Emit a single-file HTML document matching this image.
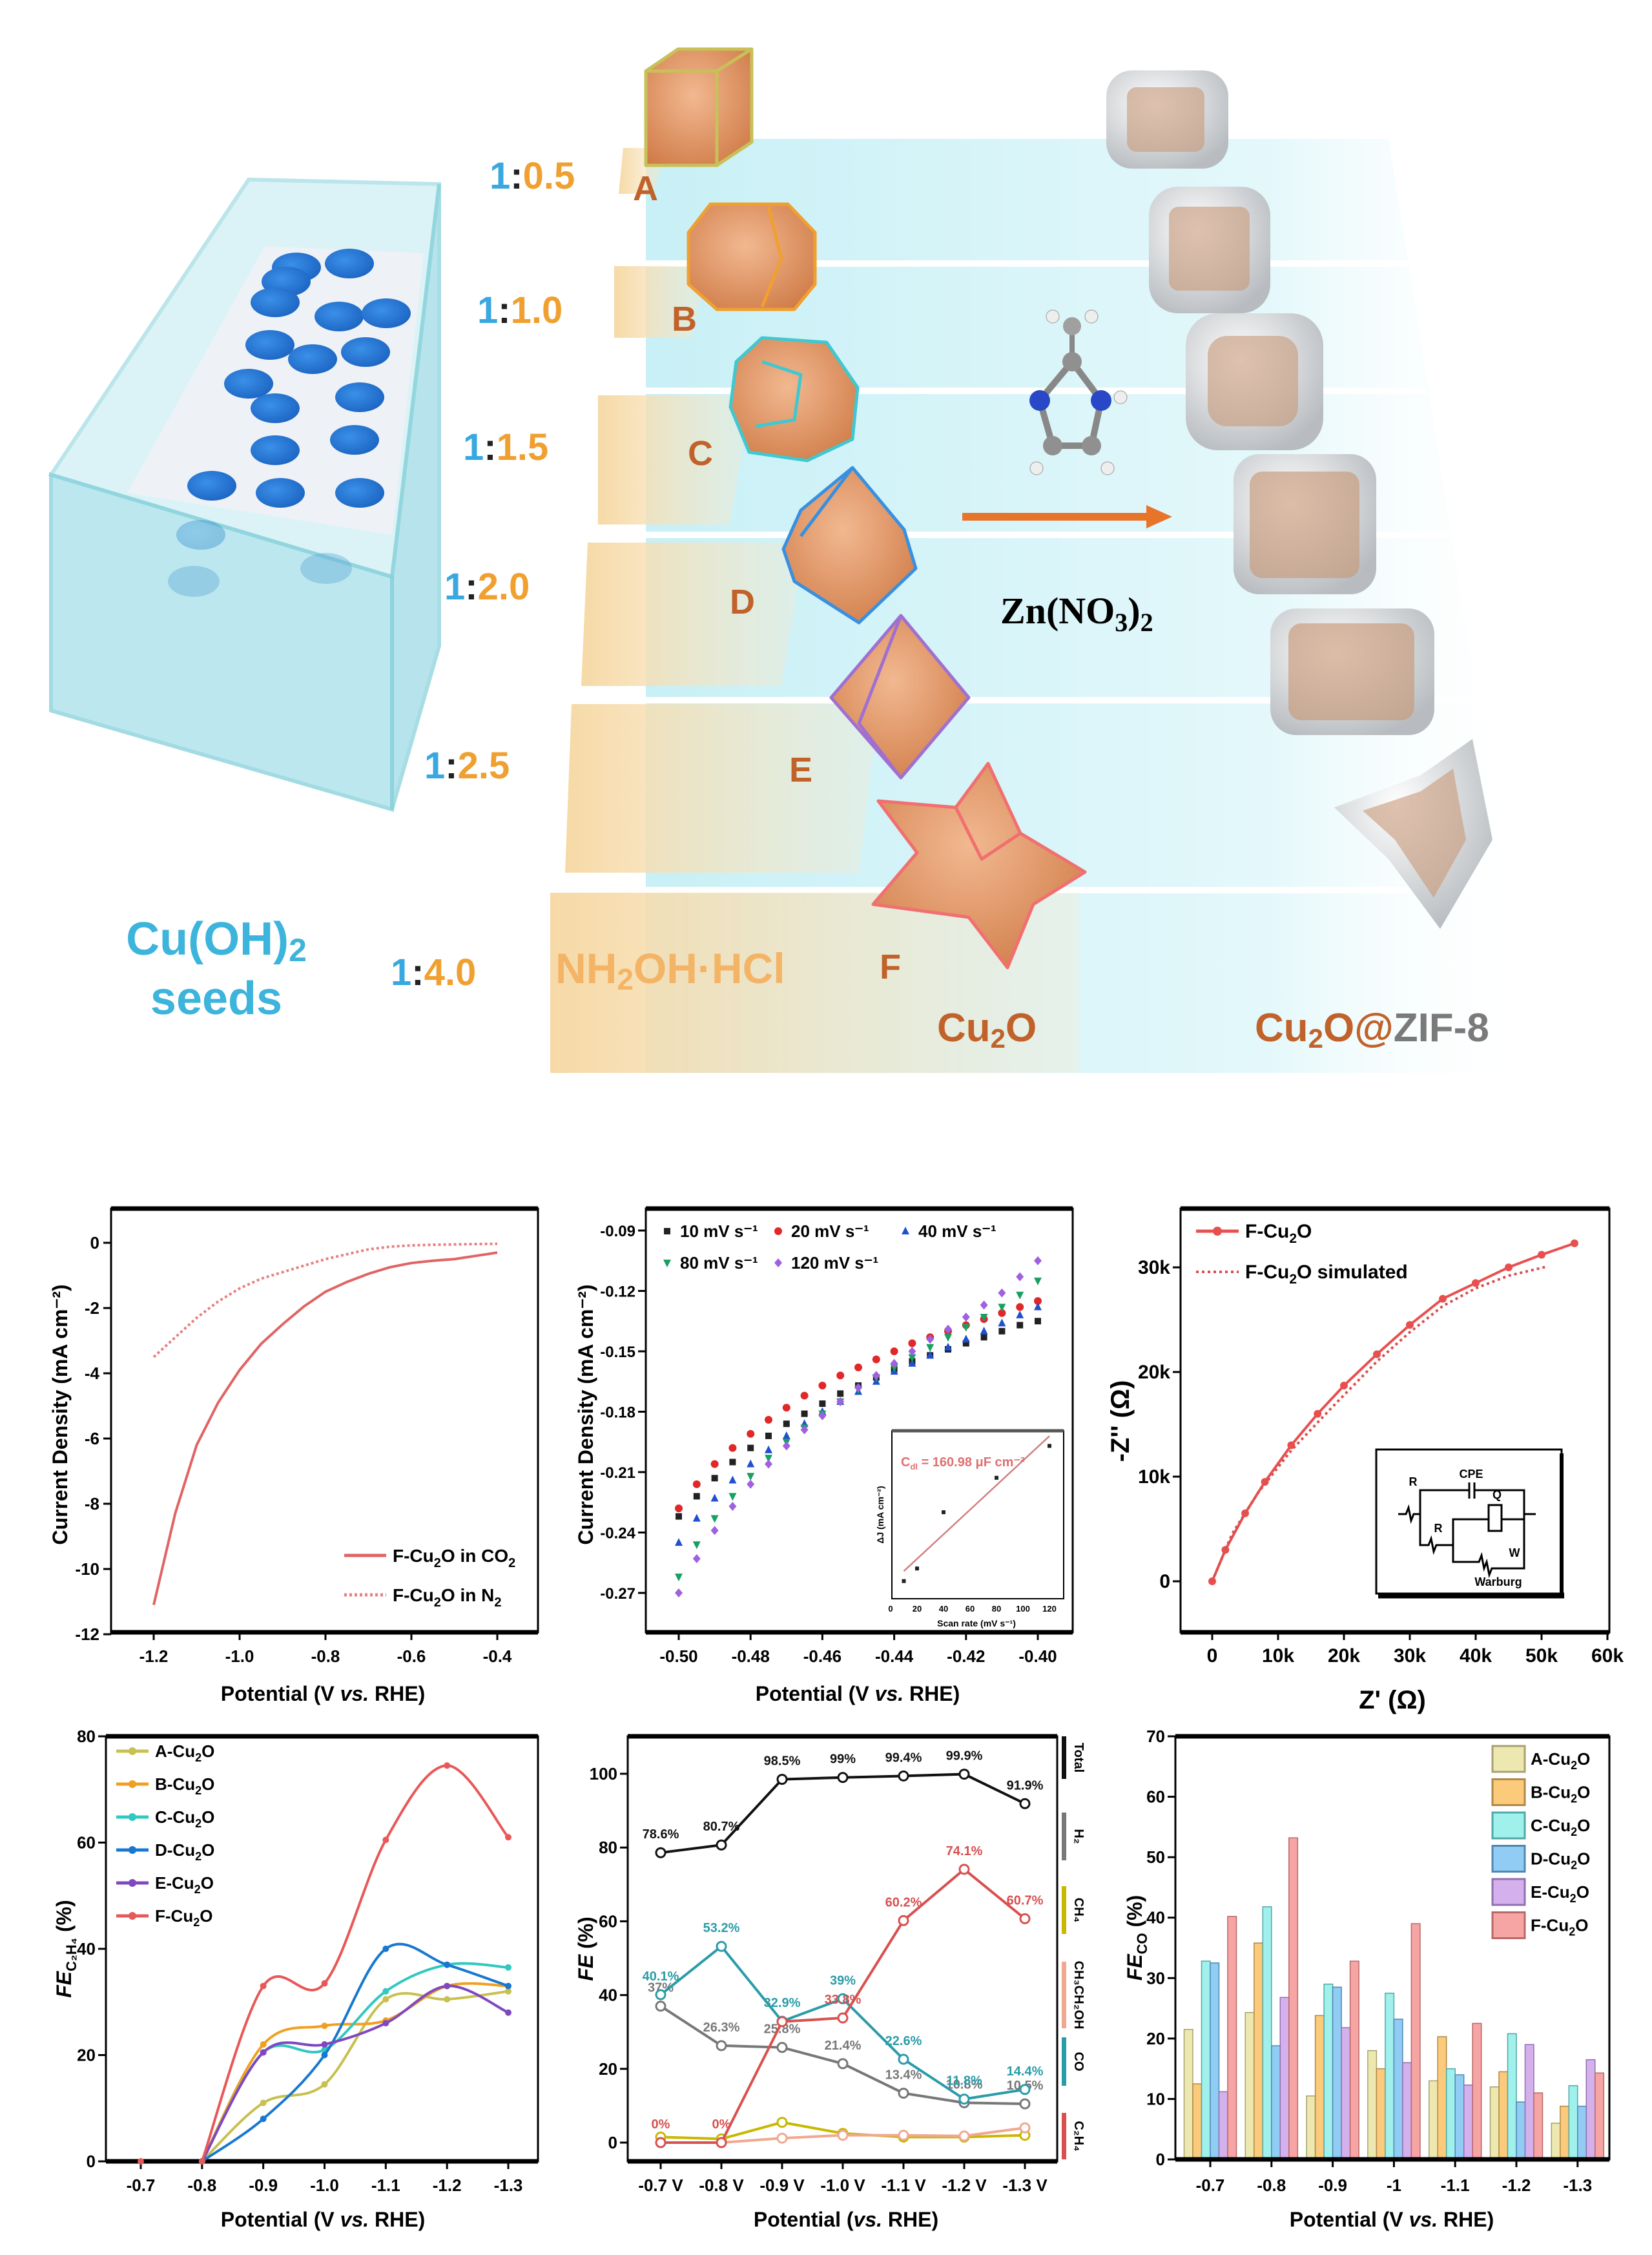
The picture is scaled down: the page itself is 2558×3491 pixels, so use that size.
<!DOCTYPE html>
<html><head><meta charset="utf-8"><style>
html,body{margin:0;padding:0;background:#fff}
svg{display:block}
text{font-family:"Liberation Sans",sans-serif}
</style></head><body>
<svg id="fig" width="2558" height="3491" viewBox="0 0 2558 3491" xmlns="http://www.w3.org/2000/svg">
<defs>
<linearGradient id="cyanBg" x1="0" y1="0" x2="1" y2="0"><stop offset="0" stop-color="#c8f0f6"/><stop offset="0.7" stop-color="#e4f8fb"/><stop offset="1" stop-color="#ffffff" stop-opacity="0"/></linearGradient>
<linearGradient id="beige" x1="0" y1="0" x2="1" y2="0"><stop offset="0" stop-color="#f6d9a6"/><stop offset="1" stop-color="#fbe9cc" stop-opacity="0.3"/></linearGradient>
<radialGradient id="cu" cx="0.45" cy="0.4" r="0.7"><stop offset="0" stop-color="#f2b890"/><stop offset="1" stop-color="#d07c48"/></radialGradient>
<radialGradient id="zif" cx="0.4" cy="0.35" r="0.7"><stop offset="0" stop-color="#ffffff"/><stop offset="1" stop-color="#b8bcc0"/></radialGradient>
<radialGradient id="disc" cx="0.4" cy="0.4" r="0.7"><stop offset="0" stop-color="#3a90e8"/><stop offset="1" stop-color="#1a62c0"/></radialGradient>
</defs>

<!-- ===== Illustration ===== -->
<g>
<polygon points="1000,215 2150,215 2380,1661 1000,1661" fill="url(#cyanBg)"/>
<g stroke="#ffffff" stroke-width="10">
<line x1="1000" y1="408" x2="2180" y2="408"/><line x1="1000" y1="605" x2="2210" y2="605"/><line x1="1000" y1="828" x2="2240" y2="828"/><line x1="1000" y1="1084" x2="2280" y2="1084"/><line x1="1000" y1="1378" x2="2320" y2="1378"/>
</g>
<g fill="url(#beige)">
<polygon points="965,229 1035,229 1010,300 958,300"/>
<polygon points="951,412 1098,412 1070,523 951,523"/>
<polygon points="926,612 1164,612 1130,812 926,812"/>
<polygon points="910,840 1246,840 1210,1062 900,1062"/>
<polygon points="885,1090 1361,1090 1330,1351 875,1351"/>
<polygon points="852,1382 1672,1382 1672,1661 852,1661"/>
</g>
<g>
<polygon points="385,278 680,285 607,893 79,735" fill="#bfeaf0" opacity="0.55" stroke="#84d0da" stroke-width="6"/>
<polygon points="410,381 656,392 607,828 197,763" fill="#eef2f6"/>
<g fill="url(#disc)">
<ellipse cx="459" cy="414" rx="38" ry="23"/><ellipse cx="541" cy="408" rx="38" ry="23"/><ellipse cx="443" cy="436" rx="38" ry="23"/><ellipse cx="426" cy="468" rx="38" ry="23"/><ellipse cx="525" cy="490" rx="38" ry="23"/><ellipse cx="598" cy="485" rx="38" ry="23"/><ellipse cx="418" cy="534" rx="38" ry="23"/><ellipse cx="484" cy="556" rx="38" ry="23"/><ellipse cx="566" cy="545" rx="38" ry="23"/><ellipse cx="385" cy="594" rx="38" ry="23"/><ellipse cx="426" cy="632" rx="38" ry="23"/><ellipse cx="557" cy="615" rx="38" ry="23"/><ellipse cx="426" cy="697" rx="38" ry="23"/><ellipse cx="549" cy="681" rx="38" ry="23"/><ellipse cx="328" cy="752" rx="38" ry="23"/><ellipse cx="434" cy="763" rx="38" ry="23"/><ellipse cx="557" cy="763" rx="38" ry="23"/><ellipse cx="311" cy="828" rx="38" ry="23"/>
</g>
<polygon points="79,735 607,893 607,1253 79,1100" fill="#a8e0ea" opacity="0.75" stroke="#84d0da" stroke-width="6"/>
<polygon points="680,285 680,1000 607,1253 607,893" fill="#98d8e4" opacity="0.7" stroke="#84d0da" stroke-width="6"/>
<ellipse cx="300" cy="900" rx="40" ry="24" fill="#5aa8d8" opacity="0.4"/><ellipse cx="505" cy="880" rx="40" ry="24" fill="#5aa8d8" opacity="0.4"/>
</g>
<g stroke-width="5" stroke-linejoin="round">
<g stroke="#c8c058"><polygon points="1000,110 1050,76 1164,76 1164,220 1110,256 1000,256" fill="url(#cu)"/><polyline points="1000,110 1110,110 1164,76 M1110,110" fill="none"/><line x1="1110" y1="110" x2="1110" y2="256"/></g>
<g stroke="#f0a030"><polygon points="1100,316 1220,316 1262,360 1262,440 1230,479 1110,479 1066,440 1066,360" fill="url(#cu)"/><polyline points="1190,320 1210,400 1180,475 M1210,400 1262,390" fill="none"/></g>
<g stroke="#40c8d0"><polygon points="1180,523 1280,530 1328,600 1320,680 1250,713 1160,700 1131,630 1140,560" fill="url(#cu)"/><polyline points="1180,560 1240,580 1230,650 1170,660 M1240,580 1300,600 M1230,650 1270,700" fill="none"/></g>
<g stroke="#3890e0"><polygon points="1320,724 1400,820 1418,880 1330,964 1230,900 1213,850 1240,790" fill="url(#cu)"/><polyline points="1240,830 1320,724 M1240,830 1400,840 M1240,830 1330,964" fill="none"/></g>
<g stroke="#a070d0"><polygon points="1395,953 1500,1080 1395,1204 1287,1080" fill="url(#cu)"/><polyline points="1395,953 1330,1120 1395,1204 M1330,1120 1470,1120" fill="none"/></g>
<g stroke="#f07070"><polygon points="1530,1182 1580,1290 1680,1350 1600,1400 1560,1498 1500,1420 1352,1400 1420,1320 1360,1240 1480,1250" fill="url(#cu)"/><polyline points="1480,1250 1520,1330 1580,1290 M1520,1330 1440,1380 M1520,1330 1560,1420 1600,1400" fill="none"/></g>
</g>
<g>
<rect x="1713" y="109" width="189" height="152" rx="40" fill="url(#zif)"/><rect x="1745" y="135" width="120" height="100" rx="15" fill="#c89a7a" opacity="0.6"/>
<rect x="1779" y="289" width="188" height="196" rx="45" fill="url(#zif)"/><rect x="1810" y="320" width="125" height="130" rx="15" fill="#c89a7a" opacity="0.6"/>
<rect x="1836" y="485" width="213" height="212" rx="50" fill="url(#zif)"/><rect x="1870" y="520" width="140" height="140" rx="30" fill="#c89a7a" opacity="0.6"/>
<rect x="1910" y="703" width="221" height="217" rx="40" fill="url(#zif)"/><rect x="1935" y="730" width="170" height="165" rx="20" fill="#c89a7a" opacity="0.65"/>
<rect x="1967" y="942" width="254" height="196" rx="40" fill="url(#zif)"/><rect x="1995" y="965" width="195" height="150" rx="20" fill="#c89a7a" opacity="0.65"/>
<polygon points="2280,1144 2311,1300 2230,1438 2150,1330 2066,1250 2200,1200" fill="url(#zif)"/><polygon points="2250,1190 2270,1300 2220,1390 2160,1300 2110,1255 2200,1225" fill="#c89a7a" opacity="0.6"/>
</g>
<g>
<line x1="1610" y1="620" x2="1660" y2="560" stroke="#888" stroke-width="10"/><line x1="1660" y1="560" x2="1705" y2="620" stroke="#888" stroke-width="10"/><line x1="1610" y1="620" x2="1630" y2="690" stroke="#888" stroke-width="10"/><line x1="1705" y1="620" x2="1690" y2="690" stroke="#888" stroke-width="10"/><line x1="1630" y1="690" x2="1690" y2="690" stroke="#888" stroke-width="10"/><line x1="1660" y1="560" x2="1660" y2="510" stroke="#888" stroke-width="8"/>
<circle cx="1610" cy="620" r="16" fill="#2848c8"/><circle cx="1705" cy="620" r="16" fill="#2848c8"/><circle cx="1660" cy="560" r="15" fill="#909090"/><circle cx="1630" cy="690" r="15" fill="#909090"/><circle cx="1690" cy="690" r="15" fill="#909090"/><circle cx="1660" cy="505" r="14" fill="#a0a0a0"/><circle cx="1630" cy="490" r="10" fill="#eee" stroke="#999"/><circle cx="1690" cy="490" r="10" fill="#eee" stroke="#999"/><circle cx="1735" cy="615" r="10" fill="#eee" stroke="#999"/><circle cx="1605" cy="725" r="10" fill="#eee" stroke="#999"/><circle cx="1715" cy="725" r="10" fill="#eee" stroke="#999"/>
</g>
<g><rect x="1490" y="794" width="290" height="12" fill="#e8742a"/><polygon points="1775,782 1815,800 1775,818" fill="#e8742a"/></g>
<text x="1549" y="965" font-family="Liberation Serif" font-weight="bold" font-size="58" style="font-family:'Liberation Serif',serif">Zn(NO<tspan font-size="40" dy="12">3</tspan><tspan dy="-12">)</tspan><tspan font-size="40" dy="12">2</tspan></text>
<g font-weight="bold" font-size="58" fill="#f0a030">
<text x="758" y="292"><tspan fill="#3aa8e0">1</tspan><tspan fill="#222">:</tspan>0.5</text>
<text x="739" y="500"><tspan fill="#3aa8e0">1</tspan><tspan fill="#222">:</tspan>1.0</text>
<text x="717" y="712"><tspan fill="#3aa8e0">1</tspan><tspan fill="#222">:</tspan>1.5</text>
<text x="688" y="928"><tspan fill="#3aa8e0">1</tspan><tspan fill="#222">:</tspan>2.0</text>
<text x="657" y="1205"><tspan fill="#3aa8e0">1</tspan><tspan fill="#222">:</tspan>2.5</text>
<text x="605" y="1525"><tspan fill="#3aa8e0">1</tspan><tspan fill="#222">:</tspan>4.0</text>
</g>
<g font-weight="bold" font-size="54" fill="#c0622a">
<text x="980" y="310">A</text><text x="1040" y="512">B</text><text x="1065" y="720">C</text><text x="1130" y="950">D</text><text x="1222" y="1210">E</text><text x="1362" y="1515">F</text>
</g>
<text x="335" y="1478" text-anchor="middle" font-weight="bold" font-size="72" fill="#3cb4dc">Cu(OH)<tspan font-size="50" dy="10">2</tspan></text>
<text x="335" y="1570" text-anchor="middle" font-weight="bold" font-size="72" fill="#3cb4dc">seeds</text>
<text x="860" y="1522" font-weight="bold" font-size="66" fill="#f3b466">NH<tspan font-size="46" dy="10">2</tspan><tspan dy="-10">OH·HCl</tspan></text>
<text x="1451" y="1612" font-weight="bold" font-size="62" fill="#c0622a">Cu<tspan font-size="42" dy="10">2</tspan><tspan dy="-10">O</tspan></text>
<text x="1943" y="1612" font-weight="bold" font-size="62" fill="#c0622a">Cu<tspan font-size="42" dy="10">2</tspan><tspan dy="-10">O@</tspan><tspan fill="#7a7a7a">ZIF-8</tspan></text>
</g>
<g id="charts"></g>
</svg>
<script>
// ---------- DATA ----------
const lsvPotential=[-1.2,-1.15,-1.1,-1.05,-1.0,-0.95,-0.9,-0.85,-0.8,-0.75,-0.7,-0.65,-0.6,-0.55,-0.5,-0.45,-0.4];
const lsvCO2=[-11.1,-8.3,-6.2,-4.9,-3.9,-3.1,-2.5,-1.95,-1.5,-1.2,-0.95,-0.75,-0.62,-0.55,-0.5,-0.4,-0.3];
const lsvN2=[-3.5,-2.9,-2.3,-1.8,-1.4,-1.1,-0.9,-0.7,-0.5,-0.35,-0.2,-0.12,-0.08,-0.06,-0.05,-0.04,-0.03];
const lsvXTicks=[-1.2,-1.0,-0.8,-0.6,-0.4];
const lsvYTicks=[0,-2,-4,-6,-8,-10,-12];

const cvPotential=[-0.500,-0.495,-0.490,-0.485,-0.480,-0.475,-0.470,-0.465,-0.460,-0.455,-0.450,-0.445,-0.440,-0.435,-0.430,-0.425,-0.420,-0.415,-0.410,-0.405,-0.400];
const cv10=[-0.232,-0.222,-0.213,-0.205,-0.198,-0.192,-0.186,-0.181,-0.176,-0.171,-0.167,-0.163,-0.159,-0.155,-0.152,-0.149,-0.146,-0.143,-0.140,-0.137,-0.135];
const cv20=[-0.228,-0.216,-0.206,-0.198,-0.191,-0.184,-0.178,-0.172,-0.167,-0.162,-0.158,-0.154,-0.150,-0.146,-0.143,-0.140,-0.137,-0.134,-0.131,-0.128,-0.125];
const cv40=[-0.245,-0.233,-0.223,-0.214,-0.206,-0.199,-0.192,-0.186,-0.180,-0.175,-0.170,-0.165,-0.160,-0.156,-0.152,-0.148,-0.144,-0.140,-0.136,-0.132,-0.128];
const cv80=[-0.262,-0.246,-0.233,-0.222,-0.212,-0.203,-0.195,-0.188,-0.181,-0.175,-0.169,-0.163,-0.158,-0.153,-0.148,-0.143,-0.138,-0.133,-0.128,-0.122,-0.115];
const cv120=[-0.270,-0.253,-0.239,-0.227,-0.216,-0.206,-0.197,-0.189,-0.182,-0.175,-0.168,-0.162,-0.156,-0.150,-0.144,-0.139,-0.133,-0.127,-0.121,-0.113,-0.105];
const cvXTicks=[-0.50,-0.48,-0.46,-0.44,-0.42,-0.40];
const cvYTicks=[-0.09,-0.12,-0.15,-0.18,-0.21,-0.24,-0.27];
const scanRates=[10,20,40,80,120];
const deltaJ=[0.0121,0.0136,0.0203,0.0244,0.0282];

const zReal=[0,2,5,8,12,16,20,25,30,35,40,45,50,55];
const zImag=[0,3,6.5,9.5,13,16,18.7,21.7,24.5,27,28.5,30,31.2,32.3];
const zSimReal=[0,3,7,12,18,25,30,35,40,45,51];
const zSimImag=[0,4.5,8.5,12.5,16.5,21,23.8,26.3,28,29.2,30.1];
const zXTicks=[0,10,20,30,40,50,60];
const zYTicks=[0,10,20,30];

const fePotential=[-0.8,-0.9,-1.0,-1.1,-1.2,-1.3];
const feA=[0,11,14.5,30.5,30.5,32];
const feB=[0,22,25.5,26.5,33,33];
const feC=[0,20.5,21,32,37,36.5];
const feD=[0,8,20,40,37,33];
const feE=[0,20.5,22,26,33,28];
const feF=[0,33,33.5,60.5,74.5,61];
const feXTicks=[-0.7,-0.8,-0.9,-1.0,-1.1,-1.2,-1.3];
const feYTicks=[0,20,40,60,80];

const prodCats=["-0.7 V","-0.8 V","-0.9 V","-1.0 V","-1.1 V","-1.2 V","-1.3 V"];
const feTotal=[78.6,80.7,98.5,99,99.4,99.9,91.9];
const feH2=[37,26.3,25.8,21.4,13.4,10.8,10.5];
const feCH4=[1.5,1,5.5,2.5,1.5,1.5,2];
const feEtOH=[0,0,1.2,2,2,1.8,4];
const feCO=[40.1,53.2,32.9,39,22.6,11.8,14.4];
const feC2H4=[0,0,32.8,33.8,60.2,74.1,60.7];
const totalLabels=["78.6%","80.7%","98.5%","99%","99.4%","99.9%","91.9%"];
const h2Labels=["37%","26.3%","25.8%","21.4%","13.4%","10.8%","10.5%"];
const coLabels=["40.1%","53.2%","32.9%","39%","22.6%","11.8%","14.4%"];
const c2h4Labels=["0%","0%","","33.8%","60.2%","74.1%","60.7%"];
const prodYTicks=[0,20,40,60,80,100];

const coCats=["-0.7","-0.8","-0.9","-1","-1.1","-1.2","-1.3"];
const coA=[21.5,24.3,10.5,18,13,12,6];
const coB=[12.5,35.8,23.8,15,20.3,14.5,8.8];
const coC=[32.8,41.8,29,27.5,15,20.8,12.2];
const coD=[32.5,18.8,28.5,23.2,14,9.5,8.8];
const coE=[11.2,26.8,21.8,16,12.3,19,16.5];
const coF=[40.2,53.2,32.8,39,22.5,11,14.3];
const coYTicks=[0,10,20,30,40,50,60,70];

// ---------- HELPERS ----------
const NS="http://www.w3.org/2000/svg";
const root=document.getElementById('charts');
function mk(tag,attrs,parent){const e=document.createElementNS(NS,tag);for(const k in attrs)e.setAttribute(k,attrs[k]);(parent||root).appendChild(e);return e;}
function lin(d0,d1,r0,r1){return v=>r0+(v-d0)/(d1-d0)*(r1-r0);}
function txt(x,y,s,size,anchor,parent,extra){const t=mk('text',Object.assign({x:x,y:y,'font-size':size,'text-anchor':anchor||'middle','font-weight':'bold'},extra||{}),parent);t.textContent=s;return t;}
function frame(g,x0,y0,x1,y1){
  mk('rect',{x:x0,y:y0,width:x1-x0,height:y1-y0,fill:'none',stroke:'#000','stroke-width':3},g);
  mk('line',{x1:x0,y1:y0,x2:x1,y2:y0,stroke:'#000','stroke-width':7},g);
  mk('line',{x1:x0,y1:y1,x2:x1,y2:y1,stroke:'#000','stroke-width':7},g);
}
function smoothPath(pts){let d='M'+pts[0][0]+','+pts[0][1];for(let i=0;i<pts.length-1;i++){const p0=pts[Math.max(0,i-1)],p1=pts[i],p2=pts[i+1],p3=pts[Math.min(pts.length-1,i+2)];const c1x=p1[0]+(p2[0]-p0[0])/6,c1y=p1[1]+(p2[1]-p0[1])/6,c2x=p2[0]-(p3[0]-p1[0])/6,c2y=p2[1]-(p3[1]-p1[1])/6;d+=` C${c1x},${c1y} ${c2x},${c2y} ${p2[0]},${p2[1]}`;}return d;}
function poly(xs,ys,sx,sy){return xs.map((v,i)=>sx(v)+','+sy(ys[i])).join(' ');}

// ---------- PANEL 1: LSV ----------
(function(){
  const g=mk('g',{});
  
  
  const X0=172,X1=833,Y0=1871,Y1=2527;
  const sx=lin(-1.2,-0.4,238,770), sy=lin(0,-12,1924,2530);
  frame(g,X0,Y0,X1,Y1);
  lsvXTicks.forEach(v=>{mk('line',{x1:sx(v),y1:Y1,x2:sx(v),y2:Y1+12,stroke:'#000','stroke-width':3},g);const t=txt(sx(v),2573,v.toFixed(1),26,'middle',g);});
  lsvYTicks.forEach(v=>{mk('line',{x1:X0-12,y1:sy(v),x2:X0,y2:sy(v),stroke:'#000','stroke-width':3},g);const t=txt(X0-18,sy(v)+9,String(v),26,'end',g);});
  const l1=mk('polyline',{points:poly(lsvPotential,lsvCO2,sx,sy),fill:'none',stroke:'#e06464','stroke-width':4},g);
  
  
  const l2=mk('polyline',{points:poly(lsvPotential,lsvN2,sx,sy),fill:'none',stroke:'#e88080','stroke-width':4,'stroke-dasharray':'4,4'},g);
  
  
  mk('line',{x1:533,y1:2408,x2:598,y2:2408,stroke:'#e06464','stroke-width':5},g);
  mk('line',{x1:533,y1:2469,x2:598,y2:2469,stroke:'#e88080','stroke-width':5,'stroke-dasharray':'4,4'},g);
  const a=txt(608,2418,'',28,'start',g);a.innerHTML='F-Cu<tspan font-size="20" dy="8">2</tspan><tspan dy="-8">O in CO</tspan><tspan font-size="20" dy="8">2</tspan>';
  
  const b=txt(608,2479,'',28,'start',g);b.innerHTML='F-Cu<tspan font-size="20" dy="8">2</tspan><tspan dy="-8">O in N</tspan><tspan font-size="20" dy="8">2</tspan>';
  
  const yt=txt(0,0,'Current Density (mA cm⁻²)',32,'middle',g,{transform:'translate(104,2190) rotate(-90)'});
  
  const xt=txt(500,2633,'',32,'middle',g);xt.innerHTML='Potential (V <tspan font-style="italic">vs.</tspan> RHE)';
  
})();

// ---------- PANEL 2: CV ----------
(function(){
  const g=mk('g',{});
  
  
  const X0=1000,X1=1661,Y0=1871,Y1=2527;
  const sx=lin(-0.50,-0.40,1051,1607), sy=lin(-0.09,-0.27,1905,2466);
  frame(g,X0,Y0,X1,Y1);
  cvXTicks.forEach(v=>{mk('line',{x1:sx(v),y1:Y1,x2:sx(v),y2:Y1+12,stroke:'#000','stroke-width':3},g);const t=txt(sx(v),2573,v.toFixed(2),26,'middle',g);});
  cvYTicks.forEach(v=>{mk('line',{x1:X0-12,y1:sy(v),x2:X0,y2:sy(v),stroke:'#000','stroke-width':3},g);const t=txt(X0-16,sy(v)+9,v.toFixed(2),24,'end',g);});
  const series=[[cv10,'#222','sq','10 mV s⁻¹'],[cv20,'#e02828','ci','20 mV s⁻¹'],[cv40,'#2050d0','tr','40 mV s⁻¹'],[cv80,'#18a060','td','80 mV s⁻¹'],[cv120,'#a060e0','di','120 mV s⁻¹']];
  function marker(x,y,type,col,parent){
    if(type==='sq')return mk('rect',{x:x-5,y:y-5,width:10,height:10,fill:col},parent);
    if(type==='ci')return mk('circle',{cx:x,cy:y,r:6,fill:col},parent);
    if(type==='tr')return mk('polygon',{points:`${x},${y-7} ${x+6},${y+5} ${x-6},${y+5}`,fill:col},parent);
    if(type==='td')return mk('polygon',{points:`${x},${y+7} ${x+6},${y-5} ${x-6},${y-5}`,fill:col},parent);
    return mk('polygon',{points:`${x},${y-7} ${x+6},${y} ${x},${y+7} ${x-6},${y}`,fill:col},parent);
  }
  series.forEach(s=>{
    const sg=mk('g',{},g);
    
    
    cvPotential.forEach((p,i)=>{marker(sx(p),sy(s[0][i]),s[2],s[1],sg);});
  });
  const leg=[[1033,1906],[1205,1906],[1402,1906],[1033,1955],[1205,1955]];
  series.forEach((s,i)=>{marker(leg[i][0],leg[i][1],s[2],s[1],g);const t=txt(leg[i][0]+20,leg[i][1]+9,s[3],26,'start',g);});
  // inset
  const ig=mk('g',{},g);
  
  
  const IX0=1381,IX1=1647,IY0=2215,IY1=2475;
  mk('rect',{x:IX0,y:IY0,width:IX1-IX0,height:IY1-IY0,fill:'#fff',stroke:'#000','stroke-width':2},ig);
  mk('line',{x1:IX0,y1:IY0,x2:IX1,y2:IY0,stroke:'#555','stroke-width':5},ig);
  const isx=lin(0,120,1379,1625), isy=lin(0.010,0.030,2475,2215);
  scanRates.forEach((r,i)=>{mk('rect',{x:isx(r)-3,y:isy(deltaJ[i])-3,width:6,height:6,fill:'#222'},ig);});
  const n=scanRates.length,mx=scanRates.reduce((a,b)=>a+b)/n,my=deltaJ.reduce((a,b)=>a+b)/n;
  let sxy=0,sxx=0;scanRates.forEach((r,i)=>{sxy+=(r-mx)*(deltaJ[i]-my);sxx+=(r-mx)*(r-mx);});
  const k=sxy/sxx,b0=my-k*mx;
  mk('line',{x1:isx(10),y1:isy(b0+k*10),x2:isx(120),y2:isy(b0+k*120),stroke:'#d08080','stroke-width':2.5},ig);
  const ct=txt(1395,2270,'',20,'start',ig,{fill:'#e07070'});ct.innerHTML='C<tspan font-size="13" dy="5">dl</tspan><tspan dy="-5"> = 160.98 μF cm⁻²</tspan>';
  [0,20,40,60,80,100,120].forEach(v=>{txt(isx(v),2495,String(v),13,'middle',ig);});
  txt(1512,2518,'Scan rate (mV s⁻¹)',14,'middle',ig);
  txt(0,0,'ΔJ (mA cm⁻²)',14,'middle',ig,{transform:'translate(1368,2345) rotate(-90)'});
  const yt=txt(0,0,'Current Density (mA cm⁻²)',32,'middle',g,{transform:'translate(918,2190) rotate(-90)'});
  
  const xt=txt(1328,2633,'',32,'middle',g);xt.innerHTML='Potential (V <tspan font-style="italic">vs.</tspan> RHE)';
  
})();

// ---------- PANEL 3: Nyquist ----------
(function(){
  const g=mk('g',{});
  
  
  const X0=1828,X1=2492,Y0=1871,Y1=2527;
  const sx=lin(0,60,1877,2489), sy=lin(0,30,2448,1962);
  frame(g,X0,Y0,X1,Y1);
  zXTicks.forEach(v=>{mk('line',{x1:sx(v),y1:Y1,x2:sx(v),y2:Y1+12,stroke:'#000','stroke-width':3},g);const t=txt(sx(v),2573,v===0?'0':v+'k',30,'middle',g);});
  zYTicks.forEach(v=>{mk('line',{x1:X0-12,y1:sy(v),x2:X0,y2:sy(v),stroke:'#000','stroke-width':3},g);const t=txt(X0-16,sy(v)+10,v===0?'0':v+'k',30,'end',g);});
  const s1=mk('polyline',{points:poly(zReal,zImag,sx,sy),fill:'none',stroke:'#e85050','stroke-width':4},g);
  
  
  zReal.forEach((v,i)=>{const c=mk('circle',{cx:sx(v),cy:sy(zImag[i]),r:6,fill:'#e85050'},g);});
  const s2=mk('polyline',{points:poly(zSimReal,zSimImag,sx,sy),fill:'none',stroke:'#d85050','stroke-width':4,'stroke-dasharray':'4,5'},g);
  
  
  mk('line',{x1:1852,y1:1906,x2:1918,y2:1906,stroke:'#e85050','stroke-width':5},g);mk('circle',{cx:1885,cy:1906,r:7,fill:'#e85050'},g);
  mk('line',{x1:1852,y1:1969,x2:1918,y2:1969,stroke:'#d85050','stroke-width':4,'stroke-dasharray':'4,5'},g);
  const a=txt(1928,1916,'',30,'start',g);a.innerHTML='F-Cu<tspan font-size="21" dy="8">2</tspan><tspan dy="-8">O</tspan>';
  
  const b=txt(1928,1979,'',30,'start',g);b.innerHTML='F-Cu<tspan font-size="21" dy="8">2</tspan><tspan dy="-8">O simulated</tspan>';
  
  // circuit inset
  const cg=mk('g',{fill:'none',stroke:'#000','stroke-width':3},g);
  
  
  mk('rect',{x:2131,y:2244,width:287,height:223,fill:'#fff'},cg);
  mk('line',{x1:2134,y1:2470,x2:2422,y2:2470,'stroke-width':9},cg);mk('line',{x1:2418,y1:2250,x2:2418,y2:2470,'stroke-width':6},cg);
  mk('path',{d:'M2165,2344 h12 l4,-10 l4,20 l4,-10 h10 M2199,2344 V2307 H2275 M2283,2307 H2360 V2344 H2378 M2275,2295 V2320 M2283,2295 V2320 M2199,2344 V2392 H2212 l4,-10 l4,20 l4,-10 H2250 M2250,2392 V2352 H2305 M2325,2352 H2360 M2250,2392 V2418 H2290 l4,-10 l4,20 l4,-10 l4,20 l4,-10 H2360 V2344 M2305,2330 h20 v40 h-20 z'},cg);
  const ct=[['CPE',2278,2288],['R',2188,2300],['Q',2318,2320],['R',2227,2372],['W',2345,2410],['Warburg',2320,2455]];
  ct.forEach(c=>{txt(c[1],c[2],c[0],18,'middle',g);});
  const yt=txt(0,0,'-Z\'\' (Ω)',40,'middle',g,{transform:'translate(1748,2200) rotate(-90)'});
  
  const xt=txt(2156,2645,'Z\' (Ω)',40,'middle',g);
  
})();

// ---------- PANEL 4: FE C2H4 ----------
(function(){
  const g=mk('g',{});
  
  
  const X0=164,X1=833,Y0=2688,Y1=3346;
  const sx=lin(-0.7,-1.3,218,787), sy=lin(0,80,3346,2688);
  frame(g,X0,Y0,X1,Y1);
  feXTicks.forEach(v=>{mk('line',{x1:sx(v),y1:Y1,x2:sx(v),y2:Y1+12,stroke:'#000','stroke-width':3},g);const t=txt(sx(v),3392,v.toFixed(1),26,'middle',g);});
  feYTicks.forEach(v=>{mk('line',{x1:X0-12,y1:sy(v),x2:X0,y2:sy(v),stroke:'#000','stroke-width':3},g);const t=txt(X0-16,sy(v)+9,String(v),26,'end',g);});
  const ser=[[feA,'#c8c050','A'],[feB,'#f0a020','B'],[feC,'#30c8c0','C'],[feD,'#1878d0','D'],[feE,'#8048c0','E'],[feF,'#e85858','F']];
  ser.forEach((s,idx)=>{
    const pts=fePotential.map((p,i)=>[sx(p),sy(s[0][i])]);
    const pth=mk('path',{d:smoothPath(pts),fill:'none',stroke:s[1],'stroke-width':4},g);
    
    
    pts.forEach(p=>{mk('circle',{cx:p[0],cy:p[1],r:5,fill:s[1]},g);});
    const ly=2711+idx*51;
    mk('line',{x1:180,y1:ly,x2:230,y2:ly,stroke:s[1],'stroke-width':5},g);mk('circle',{cx:205,cy:ly,r:6,fill:s[1]},g);
    const t=txt(240,ly+9,'',26,'start',g);t.innerHTML=s[2]+'-Cu<tspan font-size="18" dy="7">2</tspan><tspan dy="-7">O</tspan>';
    
  });
  mk('circle',{cx:sx(-0.7),cy:sy(0),r:5,fill:'#e85858'},g);
  const yt=txt(0,0,'',32,'middle',g,{transform:'translate(110,3017) rotate(-90)'});yt.innerHTML='<tspan font-style="italic">FE</tspan><tspan font-size="22" dy="8">C₂H₄</tspan><tspan dy="-8"> (%)</tspan>';
  
  const xt=txt(500,3447,'',32,'middle',g);xt.innerHTML='Potential (V <tspan font-style="italic">vs.</tspan> RHE)';
  
})();

// ---------- PANEL 5: product FE ----------
(function(){
  const g=mk('g',{});
  
  
  const X0=972,X1=1637,Y0=2688,Y1=3346;
  const sx=i=>1023+i*94, sy=lin(0,100,3317,2746);
  frame(g,X0,Y0,X1,Y1);
  prodCats.forEach((c,i)=>{mk('line',{x1:sx(i),y1:Y1,x2:sx(i),y2:Y1+12,stroke:'#000','stroke-width':3},g);const t=txt(sx(i),3392,c,26,'middle',g);});
  prodYTicks.forEach(v=>{mk('line',{x1:X0-12,y1:sy(v),x2:X0,y2:sy(v),stroke:'#000','stroke-width':3},g);const t=txt(X0-16,sy(v)+9,String(v),26,'end',g);});
  const ser=[[feTotal,'#111',totalLabels,-22,'total'],[feH2,'#777',h2Labels,-22,'h2'],[feCH4,'#c8b800',null,0,'ch4'],[feEtOH,'#f0a890',null,0,'ethanol'],[feCO,'#2a9ca8',coLabels,-22,'co'],[feC2H4,'#d85050',c2h4Labels,-22,'c2h4']];
  ser.forEach(s=>{
    const l=mk('polyline',{points:s[0].map((v,i)=>sx(i)+','+sy(v)).join(' '),fill:'none',stroke:s[1],'stroke-width':4},g);
    
    
    s[0].forEach((v,i)=>{mk('circle',{cx:sx(i),cy:sy(v),r:7,fill:'#fff',stroke:s[1],'stroke-width':3},g);});
    if(s[2])s[2].forEach((lab,i)=>{if(lab){const t=txt(sx(i),sy(s[0][i])+s[3],lab,20,'middle',g,{fill:s[1]});}});
  });
  const leg=[['Total','#111',2688,2754],['H₂','#777',2806,2880],['CH₄','#c8b800',2920,2994],['CH₃CH₂OH','#f0a890',3037,3140],['CO','#2a9ca8',3154,3229],['C₂H₄','#d85050',3271,3343]];
  leg.forEach(l=>{mk('rect',{x:1644,y:l[2],width:7,height:l[3]-l[2],fill:l[1]},g);const t=txt(0,0,l[0],20,'middle',g,{transform:`translate(1664,${(l[2]+l[3])/2}) rotate(90)`});});
  const yt=txt(0,0,'',32,'middle',g,{transform:'translate(918,3017) rotate(-90)'});yt.innerHTML='<tspan font-style="italic">FE</tspan> (%)';
  
  const xt=txt(1310,3447,'',32,'middle',g);xt.innerHTML='Potential (<tspan font-style="italic">vs.</tspan> RHE)';
  
})();

// ---------- PANEL 6: FE CO bars ----------
(function(){
  const g=mk('g',{});
  
  
  const X0=1820,X1=2492,Y0=2688,Y1=3343;
  const cx=i=>1874+i*94.8, sy=lin(0,70,3343,2688);
  mk('rect',{x:X0,y:Y0,width:X1-X0,height:Y1-Y0,fill:'none',stroke:'#000','stroke-width':3},g);
  mk('line',{x1:X0,y1:Y0,x2:X1,y2:Y0,stroke:'#000','stroke-width':7},g);
  coCats.forEach((c,i)=>{mk('line',{x1:cx(i),y1:Y1,x2:cx(i),y2:Y1+12,stroke:'#000','stroke-width':3},g);const t=txt(cx(i),3392,c,26,'middle',g);});
  coYTicks.forEach(v=>{mk('line',{x1:X0-12,y1:sy(v),x2:X0,y2:sy(v),stroke:'#000','stroke-width':3},g);const t=txt(X0-16,sy(v)+9,String(v),26,'end',g);});
  const ser=[[coA,'#ece8b0','#a8a070','A'],[coB,'#fbca7a','#b08848','B'],[coC,'#a0f0ec','#50a8a8','C'],[coD,'#90ccf4','#5088b0','D'],[coE,'#d4b0ec','#9070b0','E'],[coF,'#f6a4a4','#b86868','F']];
  const bw=13.5;
  ser.forEach((s,k)=>{
    s[0].forEach((v,i)=>{const x=cx(i)+(k-3)*bw;const r=mk('rect',{x:x,y:sy(v),width:bw,height:sy(0)-sy(v),fill:s[1],stroke:s[2],'stroke-width':1.5},g);});
    const ly=2723+k*51.5;
    mk('rect',{x:2311,y:ly-20,width:50,height:40,fill:s[1],stroke:s[2],'stroke-width':3},g);
    const t=txt(2370,ly+9,'',26,'start',g);t.innerHTML=s[3]+'-Cu<tspan font-size="18" dy="7">2</tspan><tspan dy="-7">O</tspan>';
    
  });
  mk('line',{x1:X0,y1:Y1,x2:X1,y2:Y1,stroke:'#000','stroke-width':7},g);
  const yt=txt(0,0,'',32,'middle',g,{transform:'translate(1768,3000) rotate(-90)'});yt.innerHTML='<tspan font-style="italic">FE</tspan><tspan font-size="22" dy="8">CO</tspan><tspan dy="-8"> (%)</tspan>';
  
  const xt=txt(2155,3447,'',32,'middle',g);xt.innerHTML='Potential (V <tspan font-style="italic">vs.</tspan> RHE)';
  
})();
</script>
</body></html>
